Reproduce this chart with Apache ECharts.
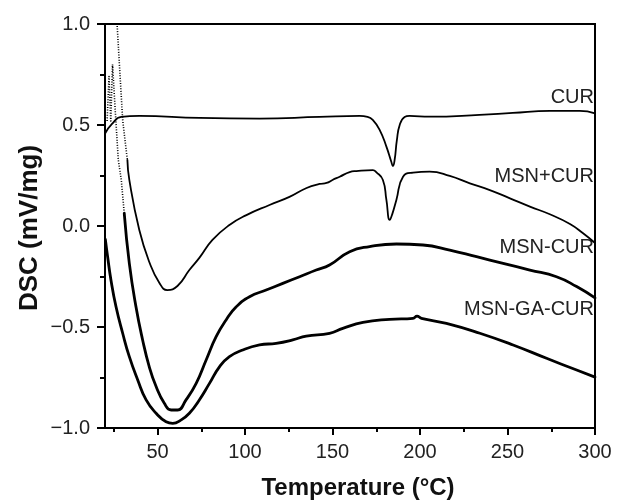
<!DOCTYPE html>
<html>
<head>
<meta charset="utf-8">
<script src="https://cdn.jsdelivr.net/npm/echarts@6/dist/echarts.min.js"></script>
<style>html,body{margin:0;padding:0;background:#fff;}#c{width:625px;height:502px;}</style>
</head>
<body>
<div id="c"></div>
<script>
// ---- data (Temperature °C, DSC mV/mg) ----
const xMajorTicks = [50, 100, 150, 200, 250, 300];
const xMinorTicks = [25, 75, 125, 175, 225, 275];
const seriesNames = ['CUR', 'MSN+CUR', 'MSN-CUR', 'MSN-GA-CUR'];

const curT = [20.2, 24, 29.3, 39.6, 74, 108.3, 142.6, 165.5, 170, 173, 177, 180.8, 183.6, 184.5, 185.5, 186.8, 188.4, 191.2, 194, 205.5, 234, 253, 274.2, 291.3, 300];
const curV = [0.46, 0.505, 0.54, 0.545, 0.535, 0.532, 0.54, 0.545, 0.54, 0.525, 0.475, 0.393, 0.318, 0.297, 0.327, 0.426, 0.5, 0.54, 0.545, 0.541, 0.55, 0.56, 0.57, 0.57, 0.558];

const mpcSteepT = [26.0, 26.9, 28.5, 30.1, 31.5, 32.8];
const mpcSteepV = [1.08, 1.0, 0.76, 0.525, 0.42, 0.327];
const mpcT = [32.8, 33.9, 39.6, 45.3, 51.1, 55.6, 61.4, 68.2, 73.9, 81.4, 91.1, 100.8, 114, 125.4, 135.2, 142.6, 146.6, 150, 154.1, 159.8, 163.6, 173.1, 175, 178.8, 180.8, 182.7, 184.2, 186.5, 190.3, 196, 205.5, 217, 228.5, 239.9, 251.4, 262.8, 274.2, 285.7, 293, 300];
const mpcV = [0.327, 0.228, -0.02, -0.178, -0.282, -0.317, -0.297, -0.218, -0.158, -0.069, 0.005, 0.054, 0.104, 0.144, 0.188, 0.208, 0.213, 0.228, 0.244, 0.267, 0.272, 0.277, 0.267, 0.228, 0.129, 0.03, 0.06, 0.129, 0.244, 0.264, 0.269, 0.248, 0.211, 0.178, 0.137, 0.096, 0.058, 0.01, -0.035, -0.084];

const mcSpikeT = [21.2, 22.3, 23.3, 24.3, 26.0, 27.6, 29.3, 31.0];
const mcSpikeV = [0.52, 0.74, 0.52, 0.80, 0.55, 0.327, 0.228, 0.063];
const mcT = [31.0, 33.9, 37.7, 41.5, 45.3, 49.2, 53.9, 57.8, 61.5, 66.3, 72.1, 77.8, 83.5, 89.2, 95, 102.6, 112.1, 121.6, 131.2, 140.7, 148.3, 159.8, 171.2, 186.5, 201.7, 217, 232.3, 247.5, 262.8, 278, 289.5, 300];
const mcV = [0.063, -0.185, -0.4, -0.564, -0.697, -0.795, -0.878, -0.911, -0.911, -0.861, -0.779, -0.663, -0.548, -0.465, -0.4, -0.35, -0.317, -0.284, -0.251, -0.218, -0.193, -0.127, -0.102, -0.089, -0.094, -0.119, -0.152, -0.185, -0.218, -0.251, -0.3, -0.356];

const mgcT = [20.2, 21.5, 23.4, 26.3, 30.1, 33.9, 38.7, 43.5, 49.2, 54.9, 58.7, 63.5, 68.2, 73.9, 79.7, 85.4, 91.1, 98.7, 108.3, 117.8, 127.3, 135, 148.3, 155.9, 167.4, 182.6, 196, 198.3, 200.8, 215.1, 234.2, 253.2, 272.3, 289.5, 300];
const mgcV = [-0.066, -0.152, -0.267, -0.4, -0.531, -0.647, -0.762, -0.861, -0.927, -0.969, -0.977, -0.96, -0.927, -0.861, -0.779, -0.697, -0.647, -0.614, -0.589, -0.581, -0.564, -0.545, -0.531, -0.507, -0.477, -0.462, -0.457, -0.446, -0.457, -0.482, -0.531, -0.589, -0.655, -0.713, -0.748];

const pairs = (t, v) => t.map((x, i) => [x, v[i]]);
const FONT = '"Liberation Sans", Arial, sans-serif';

function lineSeries(name, t, v, width, dotted) {
  return {
    name: name, type: 'line', xAxisIndex: 0, yAxisIndex: 0,
    data: pairs(t, v), showSymbol: false, symbol: 'none',
    smooth: dotted ? false : 0.5, clip: true, silent: true,
    lineStyle: { color: '#000', width: width, type: dotted ? [1, 1.6] : 'solid', join: 'round', cap: dotted ? 'butt' : 'round' },
    z: 3
  };
}

const chart = echarts.init(document.getElementById('c'), null, { renderer: 'canvas' });
chart.setOption({
  backgroundColor: '#fff',
  animation: false,
  grid: { left: 105, right: 30, top: 24, bottom: 74, show: true, borderColor: '#000', borderWidth: 2, backgroundColor: 'transparent' },
  xAxis: [{
    type: 'value', min: 20, max: 300, position: 'bottom',
    axisLine: { show: true, onZero: false, lineStyle: { color: '#000', width: 2 } },
    axisTick: { show: true, inside: false, length: 7, customValues: xMajorTicks, lineStyle: { color: '#000', width: 2 } },
    axisLabel: { show: true, customValues: xMajorTicks, margin: 14, color: '#222', fontSize: 20, fontFamily: FONT },
    splitLine: { show: false }
  }, {
    type: 'value', min: 20, max: 300, position: 'bottom', gridIndex: 0,
    axisLine: { show: false, onZero: false },
    axisTick: { show: true, inside: false, length: 4, customValues: xMinorTicks, lineStyle: { color: '#000', width: 2 } },
    axisLabel: { show: false },
    splitLine: { show: false }
  }],
  yAxis: [{
    type: 'value', min: -1, max: 1, interval: 0.5,
    axisLine: { show: true, onZero: false, lineStyle: { color: '#000', width: 2 } },
    axisTick: { show: true, inside: false, length: 8, lineStyle: { color: '#000', width: 2 } },
    minorTick: { show: true, splitNumber: 2, length: 5, lineStyle: { color: '#000', width: 2 } },
    axisLabel: { margin: 15, color: '#222', fontSize: 20, fontFamily: FONT,
      formatter: v => v.toFixed(1).replace('-', '\u2212') },
    splitLine: { show: false }
  }],
  series: [
    lineSeries('CUR', curT, curV, 1.8, false),
    lineSeries('MSN+CUR steep', mpcSteepT, mpcSteepV, 1.6, true),
    lineSeries('MSN+CUR', mpcT, mpcV, 1.8, false),
    lineSeries('MSN-CUR spike', mcSpikeT, mcSpikeV, 1.6, true),
    lineSeries('MSN-CUR', mcT, mcV, 2.8, false),
    lineSeries('MSN-GA-CUR', mgcT, mgcV, 2.8, false)
  ],
  graphic: [
    { type: 'text', x: 594, y: 97, style: { text: seriesNames[0], font: '20px ' + FONT, fill: '#222', align: 'right', verticalAlign: 'middle' } },
    { type: 'text', x: 594, y: 176, style: { text: seriesNames[1], font: '20px ' + FONT, fill: '#222', align: 'right', verticalAlign: 'middle' } },
    { type: 'text', x: 594, y: 247, style: { text: seriesNames[2], font: '20px ' + FONT, fill: '#222', align: 'right', verticalAlign: 'middle' } },
    { type: 'text', x: 594, y: 309, style: { text: seriesNames[3], font: '20px ' + FONT, fill: '#222', align: 'right', verticalAlign: 'middle' } },
    { type: 'text', x: 358, y: 488, style: { text: 'Temperature (\u00B0C)', font: 'bold 24px ' + FONT, fill: '#111', align: 'center', verticalAlign: 'middle' } },
    { type: 'text', x: 30, y: 228, rotation: Math.PI / 2, style: { text: 'DSC (mV/mg)', font: 'bold 26px ' + FONT, fill: '#111', align: 'center', verticalAlign: 'middle' } }
  ]
});
</script>
</body>
</html>
